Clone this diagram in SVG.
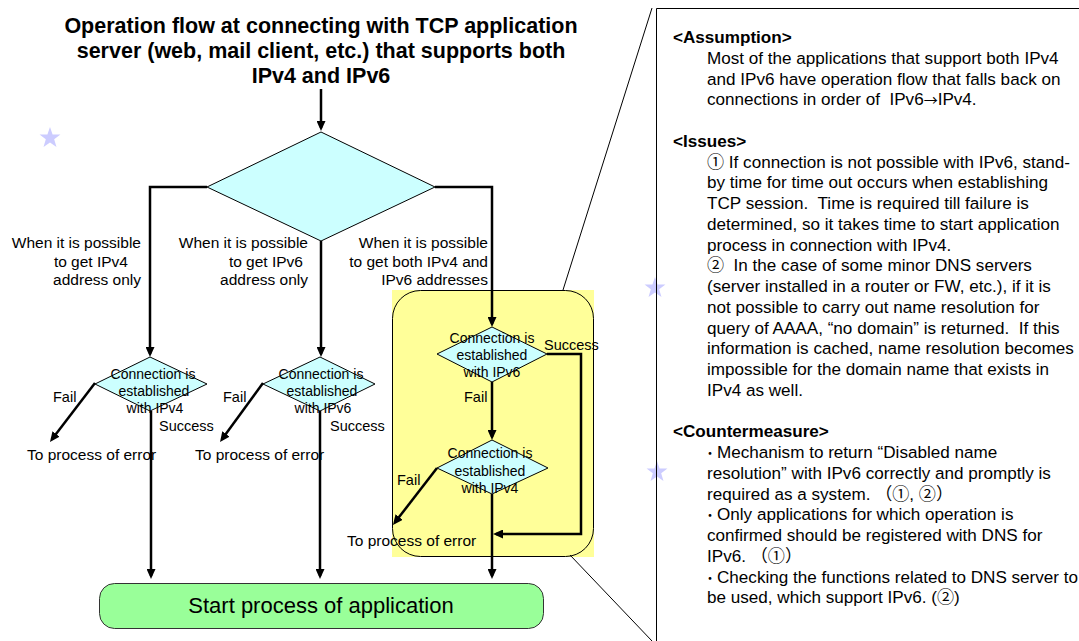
<svg xmlns="http://www.w3.org/2000/svg" width="1079" height="641" viewBox="0 0 1079 641">
<style>
.t{font-family:"Liberation Sans",Arial,"Noto Sans CJK JP",sans-serif;fill:#000}
.ttl{font-size:21.5px;font-weight:bold;text-anchor:middle}
.lbl{font-size:15.5px;text-anchor:end}
.dt{font-size:14px;text-anchor:middle}
.sf{font-size:14.5px}
.er{font-size:15.5px}
.p{font-size:17.1px;white-space:pre}
.h{font-weight:bold}
.dot{font-size:13px}
.arr{font-family:"Noto Sans CJK JP",sans-serif;font-size:14px}
.conn{fill:none;stroke:#000;stroke-width:2.5;marker-end:url(#ah)}
.dia{fill:#ccffff;stroke:#000;stroke-width:1}
.thin{fill:none;stroke:#000;stroke-width:1}
.star{fill:#ccccff}
</style>
<defs>
<marker id="ah" viewBox="0 0 10 9" markerWidth="10" markerHeight="9" refX="7" refY="4.5" orient="auto" markerUnits="userSpaceOnUse">
<path d="M0,0 L10,4.5 L0,9 Z" fill="#000"/>
</marker>
<path id="starShape" d="M0,-11 L2.59,-3.56 L10.46,-3.4 L4.18,1.36 L6.47,8.9 L0,4.4 L-6.47,8.9 L-4.18,1.36 L-10.46,-3.4 L-2.59,-3.56 Z"/>
</defs>
<rect width="1079" height="641" fill="#fff"/>

<g id="stars">
<use href="#starShape" class="star" x="50" y="138"/>
<use href="#starShape" class="star" x="655" y="288"/>
<use href="#starShape" class="star" x="657" y="472"/>
</g>

<g id="title">
<text class="t ttl" x="321" y="33">Operation flow at connecting with TCP application</text>
<text class="t ttl" x="321" y="58">server (web, mail client, etc.) that supports both</text>
<text class="t ttl" x="321" y="83">IPv4 and IPv6</text>
</g>

<g id="dual-group">
<rect x="392" y="290" width="202" height="267" fill="#ffff99"/>
<rect x="392.5" y="290.5" width="201" height="266" rx="28" ry="28" fill="#ffff99" stroke="#000" stroke-width="1"/>
</g>

<g id="zoom-lines">
<path class="thin" d="M652,8 L563,290"/>
<path class="thin" d="M570,555 L652,641"/>
</g>

<g id="panel">
<path class="thin" d="M656.5,641 V8.5 H1079"/>
<text class="t p h" x="673" y="43">&lt;Assumption&gt;</text>
<text class="t p" x="707" y="63.75">Most of the applications that support both IPv4</text>
<text class="t p" x="707" y="84.5">and IPv6 have operation flow that falls back on</text>
<text class="t p" x="707" y="105.25" xml:space="preserve">connections in order of  IPv6<tspan class="arr">→</tspan>IPv4.</text>
<text class="t p h" x="673" y="146.75">&lt;Issues&gt;</text>
<text class="t p" x="707" y="167.5">① If connection is not possible with IPv6, stand-</text>
<text class="t p" x="707" y="188.25">by time for time out occurs when establishing</text>
<text class="t p" x="707" y="209" xml:space="preserve">TCP session.  Time is required till failure is</text>
<text class="t p" x="707" y="229.75">determined, so it takes time to start application</text>
<text class="t p" x="707" y="250.5">process in connection with IPv4.</text>
<text class="t p" x="707" y="271.25" xml:space="preserve">②  In the case of some minor DNS servers</text>
<text class="t p" x="707" y="292">(server installed in a router or FW, etc.), if it is</text>
<text class="t p" x="707" y="312.75">not possible to carry out name resolution for</text>
<text class="t p" x="707" y="333.5" xml:space="preserve">query of AAAA, “no domain” is returned.  If this</text>
<text class="t p" x="707" y="354.25">information is cached, name resolution becomes</text>
<text class="t p" x="707" y="375">impossible for the domain name that exists in</text>
<text class="t p" x="707" y="395.75">IPv4 as well.</text>
<text class="t p h" x="673" y="437.25">&lt;Countermeasure&gt;</text>
<text class="t p" y="458"><tspan class="dot" x="703.5">・</tspan><tspan x="717">Mechanism to return “Disabled name</tspan></text>
<text class="t p" x="707" y="478.75">resolution” with IPv6 correctly and promptly is</text>
<text class="t p" x="707" y="499.5">required as a system. （①, ②）</text>
<text class="t p" y="520.25"><tspan class="dot" x="703.5">・</tspan><tspan x="717">Only applications for which operation is</tspan></text>
<text class="t p" x="707" y="541">confirmed should be registered with DNS for</text>
<text class="t p" x="707" y="561.75">IPv6. （①）</text>
<text class="t p" y="582.5"><tspan class="dot" x="703.5">・</tspan><tspan x="717">Checking the functions related to DNS server to</tspan></text>
<text class="t p" x="707" y="603.25">be used, which support IPv6. (②)</text>
</g>

<g id="connectors">
<path class="conn" d="M321,89 V128"/>
<path class="conn" d="M207,187 H150 V354"/>
<path class="conn" d="M321,241 V354"/>
<path class="conn" d="M435,187 H492 V324"/>
<path class="conn" d="M151,411 V576"/>
<path class="conn" d="M95,383 L51.8,439.6"/>
<path class="conn" d="M320,411 V576"/>
<path class="conn" d="M263,383 L221.8,439.6"/>
<path class="conn" d="M492,382 V437"/>
<path class="conn" d="M547,354 H581 V534 H496"/>
<path class="conn" d="M437,468 L394.8,522.6"/>
<path class="conn" d="M492,494 V576"/>
</g>

<g id="branch-labels">
<text class="t lbl" x="141" y="248">When it is possible</text>
<text class="t lbl" x="128" y="266.5">to get IPv4</text>
<text class="t lbl" x="141" y="285">address only</text>
<text class="t lbl" x="308" y="248">When it is possible</text>
<text class="t lbl" x="303" y="266.5">to get IPv6</text>
<text class="t lbl" x="308" y="285">address only</text>
<text class="t lbl" x="488" y="248">When it is possible</text>
<text class="t lbl" x="488" y="266.5">to get both IPv4 and</text>
<text class="t lbl" x="488" y="285">IPv6 addresses</text>
</g>

<g id="decision-main">
<polygon class="dia" points="321,132 435,187 321,241 207,187"/>
</g>

<g id="decision-ipv4">
<polygon class="dia" points="150,357 207,384 150,411 95,384"/>
<text class="t dt" x="153" y="379">Connection is</text>
<text class="t dt" x="154" y="396">established</text>
<text class="t dt" x="155" y="413">with IPv4</text>
</g>

<g id="decision-ipv6">
<polygon class="dia" points="320,357 375,384 320,411 263,384"/>
<text class="t dt" x="321" y="379">Connection is</text>
<text class="t dt" x="322" y="396">established</text>
<text class="t dt" x="323" y="413">with IPv6</text>
</g>

<g id="decision-dual-ipv6">
<polygon class="dia" points="492,327 547,354 492,382 437,354"/>
<text class="t dt" x="492" y="343">Connection is</text>
<text class="t dt" x="492" y="360">established</text>
<text class="t dt" x="492" y="377">with IPv6</text>
</g>

<g id="decision-dual-ipv4">
<polygon class="dia" points="492,440 548,468 492,494 437,468"/>
<text class="t dt" x="490" y="458">Connection is</text>
<text class="t dt" x="490" y="476">established</text>
<text class="t dt" x="490" y="493">with IPv4</text>
</g>

<g id="result-labels">
<text class="t sf" x="53" y="402">Fail</text>
<text class="t sf" x="159" y="431">Success</text>
<text class="t er" x="27" y="460">To process of error</text>
<text class="t sf" x="223" y="402">Fail</text>
<text class="t sf" x="330" y="431">Success</text>
<text class="t er" x="195" y="460">To process of error</text>
<text class="t sf" x="544" y="350">Success</text>
<text class="t sf" x="464" y="402">Fail</text>
<text class="t sf" x="397" y="485">Fail</text>
<text class="t er" x="347" y="546">To process of error</text>
</g>

<g id="start-app">
<rect x="99.5" y="583.5" width="444" height="45" rx="15" ry="15" fill="#99ff99" stroke="#333" stroke-width="1"/>
<text class="t" x="321" y="613" font-size="22" text-anchor="middle">Start process of application</text>
</g>
</svg>
